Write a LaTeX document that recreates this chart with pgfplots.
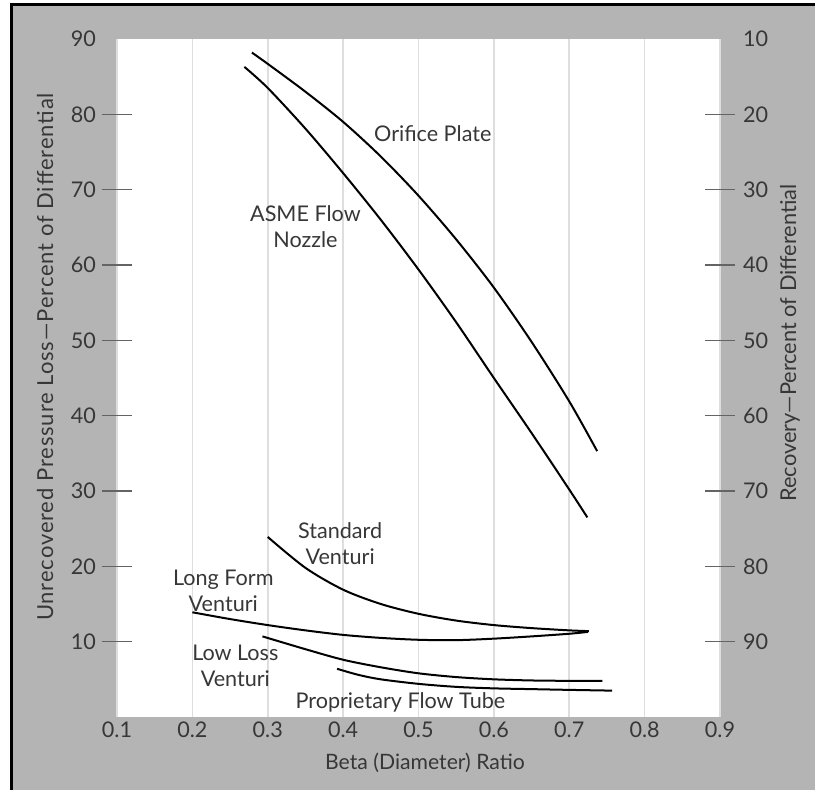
\documentclass[border=0pt]{standalone}
\usepackage{pgfplots}
\pgfplotsset{compat=1.18}
\usepackage{fontspec}
\setmainfont{Lato}
\newfontfamily\spaced[LetterSpace=4]{Lato}
\definecolor{bggray}{RGB}{180,180,180}
\definecolor{txt}{RGB}{55,55,55}
\definecolor{gridc}{RGB}{222,222,222}
\definecolor{tickc}{RGB}{100,100,100}
\begin{document}
\begin{tikzpicture}
\path[use as bounding box] (0,0) rectangle (407.5pt,397pt);
\fill[bggray] (5.5pt,2pt) rectangle (407.5pt,394.5pt);
\draw[black, line width=1.5pt] (5.5pt,2pt) -- (5.5pt,394.5pt) -- (407.5pt,394.5pt);
\begin{axis}[
  at={(58.5pt,38.5pt)}, anchor=south west, scale only axis,
  width=301.5pt, height=339pt,
  xmin=0.1, xmax=0.9, ymin=0, ymax=90,
  axis line style={draw=none},
  axis background/.style={fill=white},
  xtick={0.1,0.2,0.3,0.4,0.5,0.6,0.7,0.8,0.9},
  xticklabels={0.1,0.2,0.3,0.4,0.5,0.6,0.7,0.8,0.9},
  xmajorgrids, grid style={gridc, line width=0.8pt},
  x tick style={draw=none},
  ytick={10,20,30,40,50,60,70,80},
  extra y ticks={90}, extra y tick style={y tick style={draw=none}, ymajorgrids=false},
  y tick style={tickc, line width=0.6pt},
  tick align=center, major tick length=15pt,
  ticklabel style={font=\fontsize{10.8}{12}\selectfont, text=txt},
  /pgf/number format/assume math mode=true,
  xticklabel style={yshift=8.5pt},
  yticklabel style={xshift=0.5pt},
  clip=false,
]
\addplot[black, line width=1pt, smooth] coordinates {
(0.279,88.2)(0.3,86.7)(0.35,83.0)(0.4,79.0)(0.45,74.4)(0.5,69.2)(0.55,63.4)(0.6,57.0)(0.65,49.8)(0.7,41.9)(0.737,35.3)};
\addplot[black, line width=1pt, smooth] coordinates {
(0.269,86.3)(0.3,83.5)(0.35,78.1)(0.4,72.2)(0.45,66.0)(0.5,59.4)(0.55,52.4)(0.6,45.0)(0.65,37.7)(0.7,30.2)(0.724,26.5)};
\addplot[black, line width=1pt, smooth] coordinates {
(0.3,23.9)(0.35,19.8)(0.4,16.9)(0.45,15.0)(0.5,13.7)(0.55,12.8)(0.6,12.2)(0.65,11.8)(0.7,11.5)(0.726,11.4)};
\addplot[black, line width=1pt, smooth] coordinates {
(0.2,13.9)(0.25,13.0)(0.3,12.2)(0.35,11.5)(0.4,10.9)(0.45,10.5)(0.5,10.25)(0.55,10.2)(0.6,10.4)(0.65,10.7)(0.7,11.05)(0.725,11.3)};
\addplot[black, line width=1pt, smooth] coordinates {
(0.293,10.7)(0.35,9.0)(0.4,7.6)(0.45,6.6)(0.5,5.8)(0.55,5.3)(0.6,5.0)(0.65,4.85)(0.7,4.8)(0.744,4.8)};
\addplot[black, line width=1pt, smooth] coordinates {
(0.392,6.4)(0.42,5.6)(0.45,5.0)(0.5,4.4)(0.55,4.0)(0.6,3.8)(0.65,3.7)(0.7,3.6)(0.757,3.5)};
\begin{scope}[every node/.style={font=\fontsize{10.8}{13}\selectfont, text=txt, align=center}]
\node at (axis cs:0.519,77.4) {Orifice Plate};
\node at (axis cs:0.35,65.1) {ASME Flow\\Nozzle};
\node at (axis cs:0.396,23.0) {Standard\\Venturi};
\node at (axis cs:0.241,16.7) {Long Form\\Venturi};
\node at (axis cs:0.257,6.8) {Low Loss\\Venturi};
\node at (axis cs:0.476,2.0) {Proprietary Flow Tube};
\end{scope}
\end{axis}
\begin{axis}[
  at={(58.5pt,38.5pt)}, anchor=south west, scale only axis,
  width=301.5pt, height=339pt,
  xmin=0.1, xmax=0.9, ymin=10, ymax=100, y dir=reverse,
  axis y line*=right, hide x axis,
  axis line style={draw=none},
  ytick={20,30,40,50,60,70,80,90},
  extra y ticks={10}, extra y tick style={y tick style={draw=none}},
  y tick style={tickc, line width=0.6pt},
  tick align=center, major tick length=15pt,
  ticklabel style={font=\fontsize{10.8}{12}\selectfont, text=txt},
  /pgf/number format/assume math mode=true,
  yticklabel style={xshift=0.5pt},
]
\addplot[draw=none] coordinates {(0.5,50)};
\end{axis}
\node[rotate=90, text=txt, font=\spaced\fontsize{11}{12}\selectfont] at (22.5pt,218.5pt) {Unrecovered Pressure Loss—Percent of Differential};
\node[rotate=90, text=txt, font=\fontsize{10.9}{12}\selectfont] at (395pt,225.5pt) {Recovery—Percent of Differential};
\node[text=txt, font=\fontsize{10.6}{12}\selectfont] at (212.5pt,15.5pt) {Beta (Diameter) Ratio};
\end{tikzpicture}
\end{document}
